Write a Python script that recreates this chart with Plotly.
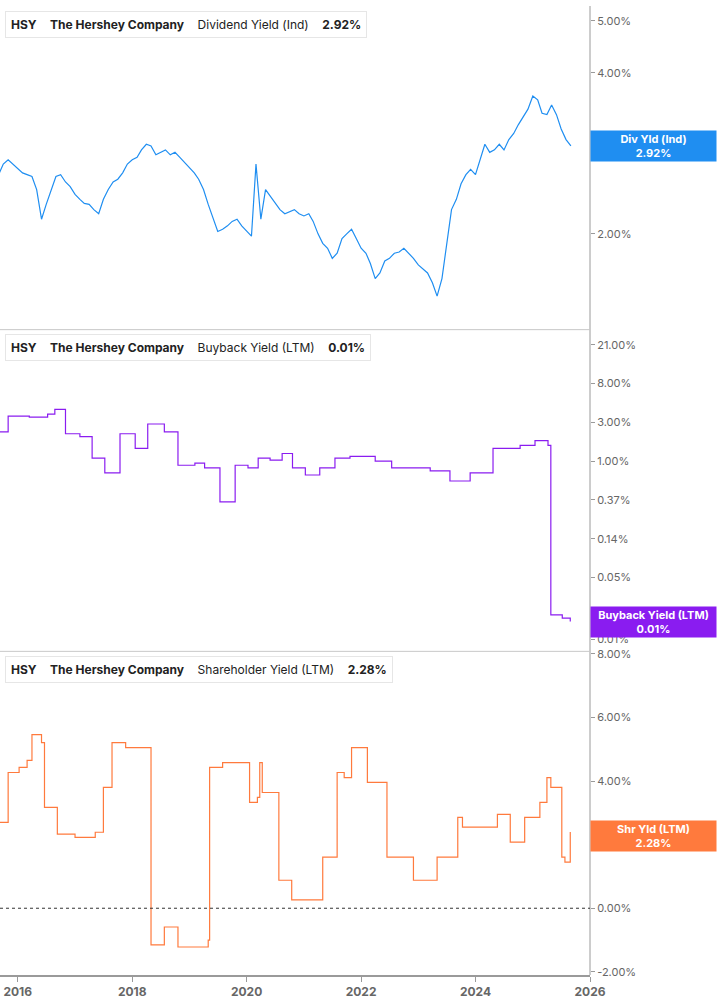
import math
import plotly.graph_objects as go

# ---------------- data ----------------
div_dates = ["2015-09","2015-10","2015-11","2015-12","2016-01","2016-02","2016-03","2016-04","2016-05","2016-06","2016-07","2016-08",
"2016-09","2016-10","2016-11","2016-12","2017-01","2017-02","2017-03","2017-04","2017-05","2017-06","2017-07","2017-08",
"2017-09","2017-10","2017-11","2017-12","2018-01","2018-02","2018-03","2018-04","2018-05","2018-06","2018-07","2018-08",
"2018-09","2018-10","2018-11","2018-12","2019-01","2019-02","2019-03","2019-04","2019-05","2019-06","2019-07","2019-08",
"2019-09","2019-10","2019-11","2019-12","2020-01","2020-02","2020-03","2020-04","2020-05","2020-06","2020-07","2020-08",
"2020-09","2020-10","2020-11","2020-12","2021-01","2021-02","2021-03","2021-04","2021-05","2021-06","2021-07","2021-08",
"2021-09","2021-10","2021-11","2021-12","2022-01","2022-02","2022-03","2022-04","2022-05","2022-06","2022-07","2022-08",
"2022-09","2022-10","2022-11","2022-12","2023-01","2023-02","2023-03","2023-04","2023-05","2023-06","2023-07","2023-08",
"2023-09","2023-10","2023-11","2023-12","2024-01","2024-02","2024-03","2024-04","2024-05","2024-06","2024-07","2024-08",
"2024-09","2024-10","2024-11","2024-12","2025-01","2025-02","2025-03","2025-04","2025-05","2025-06","2025-07","2025-08","2025-09"]
div_yield = [2.58,2.70,2.75,2.70,2.64,2.60,2.58,2.56,2.42,2.13,2.27,2.42,
2.56,2.58,2.50,2.45,2.37,2.32,2.28,2.27,2.22,2.18,2.32,2.42,
2.50,2.53,2.60,2.70,2.75,2.78,2.87,2.94,2.92,2.81,2.84,2.87,
2.81,2.84,2.78,2.72,2.67,2.60,2.53,2.42,2.27,2.13,2.02,2.04,
2.07,2.11,2.13,2.07,2.02,1.98,2.70,2.13,2.42,2.35,2.28,2.22,
2.18,2.20,2.22,2.18,2.16,2.18,2.11,2.00,1.92,1.88,1.80,1.84,
1.96,2.00,2.04,1.96,1.88,1.84,1.76,1.65,1.69,1.78,1.80,1.84,
1.85,1.88,1.84,1.80,1.75,1.72,1.69,1.62,1.53,1.65,1.92,2.22,
2.32,2.48,2.58,2.64,2.58,2.75,2.94,2.84,2.87,2.94,2.87,3.00,
3.08,3.20,3.32,3.42,3.62,3.56,3.36,3.34,3.48,3.34,3.14,3.00,2.92]

bb_dates = ["2015-09-10","2015-11-01","2016-03-15","2016-07-10","2016-08-25","2016-11-01","2017-02-01","2017-04-20",
"2017-07-10","2017-10-15","2018-01-20","2018-04-10","2018-07-25","2018-10-20","2019-02-05","2019-04-08","2019-07-15",
"2019-10-20","2020-01-10","2020-03-15","2020-05-30","2020-08-15","2020-10-20","2021-01-10","2021-04-12","2021-07-18",
"2021-10-22","2022-04-01","2022-07-15","2022-12-15","2023-03-18","2023-07-22","2023-11-28","2024-04-22","2024-10-12",
"2025-01-15","2025-04-08","2025-04-26","2025-07-08","2025-08-28"]
bb_yield = [2.13,3.20,3.12,3.36,3.81,2.03,1.88,1.08,0.74,2.03,1.39,2.61,2.13,0.90,0.95,0.84,0.35,
0.90,0.84,1.08,1.03,1.22,0.84,0.70,0.84,1.08,1.13,1.00,0.84,0.84,0.78,0.60,0.74,1.39,1.50,
1.70,1.50,0.019,0.0175,0.016]

sh_dates = ["2015-09-10","2015-11-01","2016-01-10","2016-03-01","2016-04-01","2016-06-01","2016-06-20","2016-09-10",
"2017-01-01","2017-05-10","2017-07-01","2017-08-25","2017-11-20","2018-05-01","2018-07-25","2018-10-20","2019-05-01",
"2019-05-10","2019-08-01","2020-01-20","2020-03-10","2020-03-25","2020-04-10","2020-07-25","2020-10-15","2021-05-01",
"2021-08-01","2021-09-15","2021-11-01","2022-02-10","2022-06-15","2022-12-01","2023-05-01","2023-09-10","2023-10-10",
"2024-05-20","2024-08-10","2024-11-10","2025-02-15","2025-04-01","2025-04-26","2025-07-05","2025-07-25","2025-08-28"]
sh_yield = [2.70,4.27,4.43,4.65,5.46,5.21,3.17,2.33,2.23,2.39,3.80,5.21,5.05,-1.15,-0.59,-1.22,-1.00,
4.43,4.58,3.33,3.49,4.58,3.64,0.88,0.26,1.61,4.27,4.11,5.05,3.96,1.61,0.88,1.61,2.86,2.55,
2.95,2.08,2.86,3.33,4.11,3.80,1.61,1.45,2.40]

bb_ticks = [20.09, 7.39, 2.72, 1.0, 0.368, 0.135, 0.0498, 0.0183, 0.0101]
bb_tick_text = ["21.00%","8.00%","3.00%","1.00%","0.37%","0.14%","0.05%","0.02%","0.01%"]
div_ticks = [2, 3, 4, 5]
sh_ticks = [-2, 0, 2, 4, 6, 8]
x_ticks = ["2016-01-01","2018-01-01","2020-01-01","2022-01-01","2024-01-01","2026-01-01"]
x_tick_text = ["2016","2018","2020","2022","2024","2026"]

BLUE = "#1f8ef1"; PURPLE = "#8a1cf0"; ORANGE = "#ff7a3d"
GRID = "#9a9a9a"; TXT = "#666666"
FONT = "Inter"

fig = go.Figure()
fig.add_trace(go.Scatter(x=div_dates, y=div_yield, mode="lines", line=dict(color=BLUE, width=1.2),
                         xaxis="x", yaxis="y"))
fig.add_trace(go.Scatter(x=bb_dates, y=bb_yield, mode="lines", line=dict(color=PURPLE, width=1.2, shape="hv"),
                         xaxis="x", yaxis="y2"))
fig.add_trace(go.Scatter(x=sh_dates, y=sh_yield, mode="lines", line=dict(color=ORANGE, width=1.2, shape="hv"),
                         xaxis="x", yaxis="y3"))

yax_common = dict(side="right", anchor="x", showgrid=False, zeroline=False, ticks="outside", ticklen=4,
                  tickcolor=GRID, tickfont=dict(family=FONT, size=11, color=TXT), showline=False)

fig.update_layout(
    width=717, height=1005, margin=dict(l=0, r=127, t=0, b=30),
    paper_bgcolor="white", plot_bgcolor="white", showlegend=False,
    font=dict(family=FONT),
    xaxis=dict(range=["2015-09-10", "2026-01-01"], tickvals=x_ticks, ticktext=x_tick_text, showgrid=False,
               ticks="outside", ticklen=5, tickcolor=GRID, showline=True, linecolor=GRID, linewidth=1.5,
               tickfont=dict(family=FONT, size=12, color=TXT, weight="bold"), anchor="y3", zeroline=False),
    yaxis=dict(domain=[0.667, 1.0], type="log", range=[math.log10(1.33), math.log10(5.33)],
               tickvals=div_ticks, ticktext=["2.00%", "3.00%", "4.00%", "5.00%"], **yax_common),
    yaxis2=dict(domain=[0.335, 0.665], type="log", range=[math.log10(0.0076), math.log10(29)],
                tickvals=bb_ticks, ticktext=bb_tick_text, **yax_common),
    yaxis3=dict(domain=[0.0, 0.333], range=[-2.1, 8.05],
                tickvals=sh_ticks, ticktext=["-2.00%", "0.00%", "2.00%", "4.00%", "6.00%", "8.00%"], **yax_common),
)

shapes = [
    dict(type="line", xref="paper", yref="paper", x0=1, x1=1, y0=0, y1=1, line=dict(color=GRID, width=1)),
    dict(type="line", xref="paper", yref="paper", x0=0, x1=1, y0=0.666, y1=0.666, line=dict(color="#c8c8c8", width=1)),
    dict(type="line", xref="paper", yref="paper", x0=0, x1=1, y0=0.334, y1=0.334, line=dict(color="#c8c8c8", width=1)),
    dict(type="line", xref="paper", yref="y3", x0=0, x1=1, y0=0, y1=0, line=dict(color="#333333", width=1, dash="dot")),
]
fig.update_layout(shapes=shapes)

H = 975.0
def py(px):  # pixel from top of plot area -> paper
    return 1 - px / H

legends = [
    (5, BLUE, "Dividend Yield (Ind)", "2.92%"),
    (330, PURPLE, "Buyback Yield (LTM)", "0.01%"),
    (654, ORANGE, "Shareholder Yield (LTM)", "2.28%"),
]
for top, col, name, val in legends:
    fig.add_annotation(xref="paper", yref="paper", x=5 / 590, y=py(top), xanchor="left", yanchor="top",
                       text=f"<b>HSY</b>    <b>The Hershey Company</b>    {name}    <b>{val}</b>",
                       showarrow=False, align="left", font=dict(family=FONT, size=12, color="#222"),
                       bgcolor="white", bordercolor="#e6e6e6", borderwidth=1, borderpad=5)
    fig.add_shape(type="rect", xref="paper", yref="paper", x0=5 / 590, x1=8 / 590,
                  y0=py(top + 26), y1=py(top + 1), fillcolor=col, line=dict(width=0))

labels = [("y", math.log10(2.92), BLUE, "Div Yld (Ind)", "2.92%"),
          ("y2", math.log10(0.016), PURPLE, "Buyback Yield (LTM)", "0.01%"),
          ("y3", 2.28, ORANGE, "Shr Yld (LTM)", "2.28%")]
for yr, yv, col, name, val in labels:
    fig.add_annotation(xref="paper", yref=yr, x=1, y=yv, xanchor="left", yanchor="middle",
                       text=f"<b>{name}</b><br><b>{val}</b>", showarrow=False,
                       font=dict(family=FONT, size=11, color="white"), bgcolor=col,
                       width=121, height=26, borderpad=2, align="center")

fig.write_html("out.html", config={"displayModeBar": False},
               post_script="document.body.style.margin='0';document.body.style.overflow='hidden';")
